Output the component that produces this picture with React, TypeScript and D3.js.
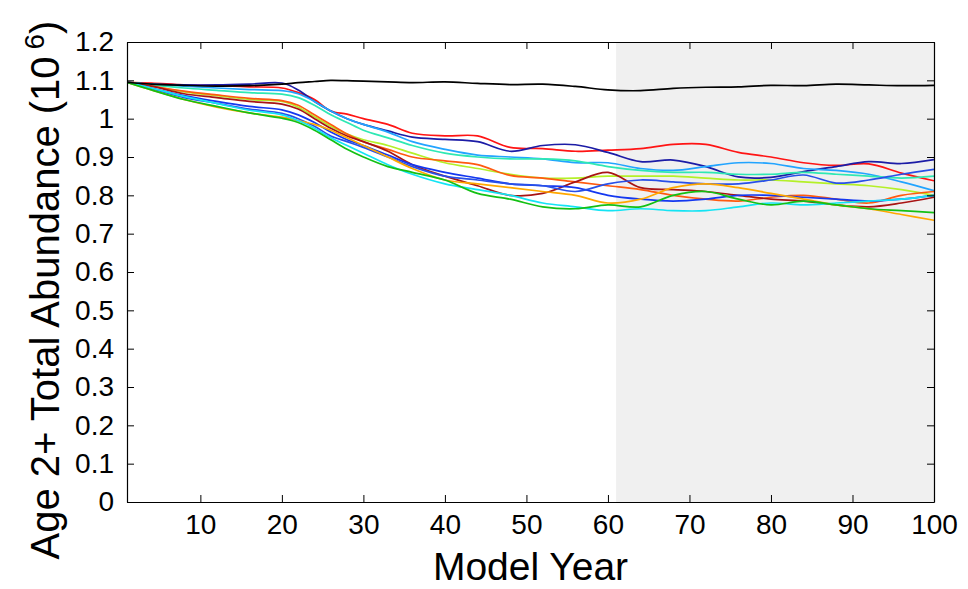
import React, { useEffect, useRef } from "react";
import * as d3 from "d3";

const years = [1, 4, 8, 12, 16, 20, 22, 24, 26, 28, 30, 33, 36, 40, 44, 48, 52, 56, 60, 64, 68, 72, 76, 80, 84, 88, 92, 96, 100];

const baseline = [1.095, 1.09, 1.087, 1.085, 1.086, 1.09, 1.094, 1.097, 1.1, 1.099, 1.098, 1.096, 1.094, 1.096, 1.092, 1.089, 1.09, 1.084, 1.075, 1.073, 1.079, 1.082, 1.083, 1.087, 1.086, 1.09, 1.088, 1.086, 1.087];
const redHigh = [1.095, 1.093, 1.088, 1.086, 1.083, 1.08, 1.068, 1.05, 1.02, 1.012, 1.0, 0.985, 0.962, 0.955, 0.955, 0.925, 0.922, 0.915, 0.918, 0.922, 0.933, 0.933, 0.912, 0.9, 0.885, 0.878, 0.882, 0.858, 0.838];
const navy = [1.095, 1.09, 1.088, 1.088, 1.09, 1.093, 1.075, 1.045, 1.02, 1.0, 0.985, 0.968, 0.952, 0.946, 0.94, 0.915, 0.93, 0.932, 0.912, 0.888, 0.892, 0.875, 0.848, 0.847, 0.862, 0.875, 0.888, 0.883, 0.893];
const lightBlue = [1.095, 1.09, 1.085, 1.08, 1.076, 1.073, 1.065, 1.045, 1.02, 1.0, 0.985, 0.965, 0.94, 0.92, 0.905, 0.9, 0.895, 0.885, 0.885, 0.87, 0.865, 0.875, 0.885, 0.883, 0.87, 0.865, 0.855, 0.835, 0.812];
const aqua = [1.095, 1.088, 1.08, 1.074, 1.068, 1.064, 1.055, 1.035, 1.01, 0.99, 0.97, 0.95, 0.93, 0.91, 0.9, 0.895, 0.895, 0.89, 0.875, 0.865, 0.86, 0.86, 0.855, 0.855, 0.86, 0.855, 0.85, 0.845, 0.85];
const lime = [1.095, 1.085, 1.07, 1.06, 1.05, 1.045, 1.03, 1.005, 0.98, 0.96, 0.945, 0.93, 0.91, 0.885, 0.87, 0.855, 0.845, 0.845, 0.85, 0.85, 0.85, 0.845, 0.84, 0.84, 0.835, 0.83, 0.825, 0.815, 0.8];
const orangeRed = [1.095, 1.085, 1.072, 1.062, 1.053, 1.047, 1.035, 1.01, 0.985, 0.96, 0.94, 0.92, 0.9, 0.89, 0.88, 0.852, 0.845, 0.835, 0.825, 0.815, 0.8, 0.79, 0.785, 0.795, 0.8, 0.79, 0.78, 0.8, 0.81];
const darkRed = [1.095, 1.085, 1.065, 1.055, 1.045, 1.038, 1.025, 1.0, 0.975, 0.955, 0.94, 0.915, 0.88, 0.85, 0.825, 0.8, 0.805, 0.835, 0.86, 0.82, 0.815, 0.81, 0.8, 0.79, 0.785, 0.775, 0.77, 0.78, 0.795];
const blue = [1.095, 1.08, 1.06, 1.045, 1.032, 1.023, 1.01, 0.99, 0.965, 0.945, 0.93, 0.905, 0.88, 0.86, 0.845, 0.83, 0.825, 0.82, 0.8, 0.79, 0.785, 0.79, 0.8, 0.8, 0.795, 0.79, 0.785, 0.79, 0.8];
const royal = [1.095, 1.078, 1.055, 1.04, 1.025, 1.014, 1.0, 0.98, 0.955, 0.94, 0.925, 0.9, 0.875, 0.85, 0.84, 0.83, 0.825, 0.81, 0.83, 0.84, 0.835, 0.83, 0.83, 0.84, 0.853, 0.832, 0.84, 0.855, 0.868];
const amber = [1.095, 1.075, 1.05, 1.03, 1.015, 1.004, 0.995, 0.985, 0.97, 0.95, 0.93, 0.9, 0.87, 0.84, 0.83, 0.82, 0.81, 0.8, 0.78, 0.79, 0.82, 0.83, 0.82, 0.805, 0.79, 0.775, 0.765, 0.75, 0.735];
const cyan = [1.095, 1.08, 1.058, 1.04, 1.022, 1.01, 0.995, 0.975, 0.95, 0.93, 0.91, 0.88, 0.855, 0.83, 0.815, 0.8, 0.78, 0.77, 0.76, 0.765, 0.76, 0.76, 0.77, 0.78, 0.775, 0.78, 0.785, 0.79, 0.8];
const green = [1.095, 1.075, 1.05, 1.032, 1.015, 1.001, 0.99, 0.97, 0.945, 0.92, 0.9, 0.875, 0.86, 0.84, 0.805, 0.79, 0.77, 0.765, 0.775, 0.77, 0.8, 0.81, 0.79, 0.775, 0.785, 0.775, 0.765, 0.76, 0.755];

const xTicks = [10, 20, 30, 40, 50, 60, 70, 80, 90, 100];
const yTicks = [0, 0.1, 0.2, 0.3, 0.4, 0.5, 0.6, 0.7, 0.8, 0.9, 1, 1.1, 1.2];
const shadeStart = 61;

const runs = [
  { values: redHigh, color: "#ff1414" },
  { values: navy, color: "#1c1ca6" },
  { values: lightBlue, color: "#22a4ff" },
  { values: aqua, color: "#2ee8b4" },
  { values: lime, color: "#b4f028" },
  { values: orangeRed, color: "#ff5a10" },
  { values: darkRed, color: "#a81414" },
  { values: blue, color: "#1438f0" },
  { values: royal, color: "#2850e8" },
  { values: amber, color: "#ffa800" },
  { values: cyan, color: "#14e4f4" },
  { values: green, color: "#14c014" },
  { values: baseline, color: "#000000" },
];

const W = 968;
const H = 589;
const margin = { top: 42, right: 34, bottom: 87, left: 127 };
const FONT = "'Liberation Sans', Arial, Helvetica, sans-serif";

const App = () => {
  const svgRef = useRef(null);

  useEffect(() => {
    const svg = d3.select(svgRef.current);
    svg.selectAll("*").remove();

    const x = d3.scaleLinear().domain([1, 100]).range([margin.left, W - margin.right]);
    const y = d3.scaleLinear().domain([0, 1.2]).range([H - margin.bottom, margin.top]);

    svg.append("rect").attr("width", W).attr("height", H).attr("fill", "#ffffff");

    svg
      .append("rect")
      .attr("x", x(shadeStart))
      .attr("y", y(1.2))
      .attr("width", x(100) - x(shadeStart))
      .attr("height", y(0) - y(1.2))
      .attr("fill", "#f0f0f0");

    svg
      .append("clipPath")
      .attr("id", "plot-clip")
      .append("rect")
      .attr("x", x(1))
      .attr("y", y(1.2))
      .attr("width", x(100) - x(1))
      .attr("height", y(0) - y(1.2));

    const line = d3
      .line<number>()
      .x((_, i) => x(years[i]))
      .y((d) => y(d))
      .curve(d3.curveCatmullRom.alpha(0.5));

    svg
      .append("g")
      .attr("clip-path", "url(#plot-clip)")
      .selectAll("path")
      .data(runs)
      .join("path")
      .attr("d", (d) => line(d.values))
      .attr("fill", "none")
      .attr("stroke", (d) => d.color)
      .attr("stroke-width", 1.7)
      .attr("stroke-linejoin", "round");

    const styleAxis = (g, labels) => {
      g.select(".domain").attr("stroke", "#000").attr("stroke-width", 1.2);
      g.selectAll(".tick line").attr("stroke", "#000").attr("stroke-width", 1);
      g.selectAll(".tick text")
        .attr("fill", "#000")
        .style("font-family", FONT)
        .style("font-size", "28px")
        .style("display", labels ? null : "none");
    };

    svg
      .append("g")
      .attr("transform", `translate(0,${y(0)})`)
      .call(d3.axisBottom(x).tickValues(xTicks).tickSizeInner(-7).tickSizeOuter(0).tickPadding(12))
      .call((g) => styleAxis(g, true));

    svg
      .append("g")
      .attr("transform", `translate(0,${y(1.2)})`)
      .call(d3.axisTop(x).tickValues(xTicks).tickSizeInner(-7).tickSizeOuter(0))
      .call((g) => styleAxis(g, false));

    svg
      .append("g")
      .attr("transform", `translate(${x(1)},0)`)
      .call(
        d3
          .axisLeft(y)
          .tickValues(yTicks)
          .tickFormat((d) => d3.format("~g")(d))
          .tickSizeInner(-7)
          .tickSizeOuter(0)
          .tickPadding(13)
      )
      .call((g) => styleAxis(g, true));

    svg
      .append("g")
      .attr("transform", `translate(${x(100)},0)`)
      .call(d3.axisRight(y).tickValues(yTicks).tickSizeInner(-7).tickSizeOuter(0))
      .call((g) => styleAxis(g, false));

    svg
      .append("text")
      .attr("x", (x(1) + x(100)) / 2)
      .attr("y", 580)
      .attr("text-anchor", "middle")
      .style("font-family", FONT)
      .style("font-size", "39px")
      .text("Model Year");

    const yl = svg
      .append("text")
      .attr("transform", `translate(59,${(y(0) + y(1.2)) / 2 + 18}) rotate(-90)`)
      .attr("text-anchor", "middle")
      .style("font-family", FONT)
      .style("font-size", "40px");
    yl.append("tspan").text("Age 2+ Total Abundance (10");
    yl.append("tspan").attr("dx", 7).attr("dy", -15).style("font-size", "28px").text("6");
    yl.append("tspan").attr("dy", 15).text(")");
  }, []);

  return (
    <svg
      ref={svgRef}
      width={W}
      height={H}
      style={{ position: "absolute", left: 0, top: 0, display: "block" }}
    />
  );
};

export default App;
